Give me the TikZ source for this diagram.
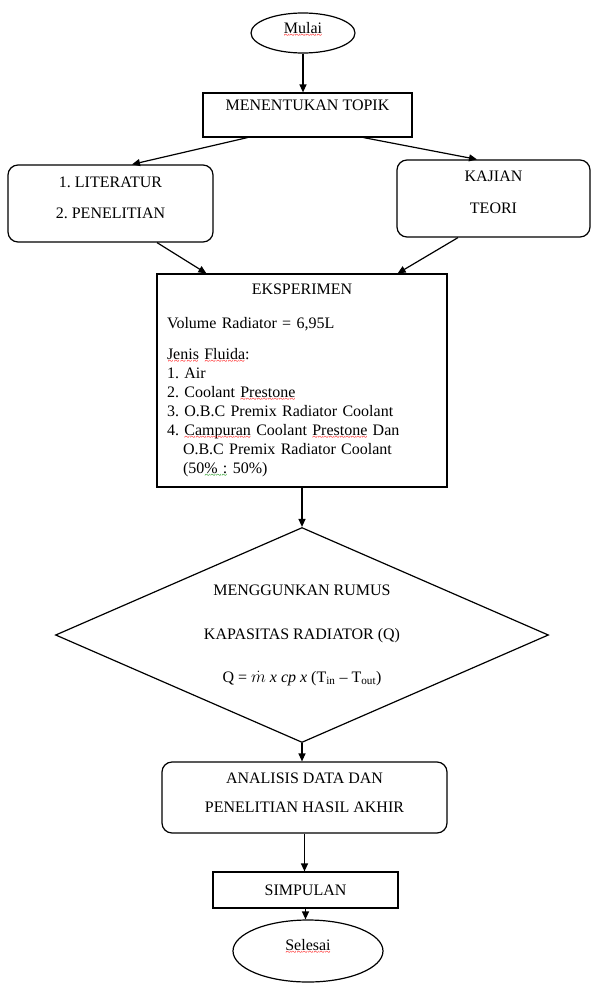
\documentclass[tikz,border=0pt]{standalone}
\usepackage{fontspec}
\setmainfont{Liberation Serif}
\usetikzlibrary{shapes.geometric,arrows.meta,positioning}
\frenchspacing

% wavy spell-check marks under words
\newlength{\SquiggleWidth}
\newcommand{\SquiggleUnder}[2]{\settowidth{\SquiggleWidth}{#2}\leavevmode\rlap{#2}\raisebox{-5pt}[0pt][0pt]{\textcolor{#1}{\hbox to \SquiggleWidth{\xleaders\hbox{\fontsize{10}{10}\selectfont\char"007E}\hfil}}}}
\newcommand{\spellmark}{\SquiggleUnder{red}}
\newcommand{\grammarmark}{\SquiggleUnder{green!55!black}}

\begin{document}
\begin{tikzpicture}[
	x=1pt, y=-1pt,
	font=\fontsize{16}{19}\selectfont,
	every node/.style={line width=1.2pt, inner sep=0pt},
	FlowBox/.style={draw, rectangle, align=center},
	RoundBox/.style={draw, rectangle, rounded corners=10pt, align=center},
	StartStop/.style={draw, ellipse, align=center},
	Decision/.style={draw, diamond, align=center},
	FlowArrow/.style={-{Triangle[length=8pt,width=7pt]}, line width=1.2pt}
	]
	\useasboundingbox (0,0) rectangle (592,985);
	% start and topic
	\node[StartStop, minimum width=104pt, minimum height=40pt] (StartNode) at (303,33) {\spellmark{Mulai}\\[-8pt]\mbox{}};
	\node[FlowBox, minimum width=209pt, minimum height=44pt] (TopicNode) at (307.5,115) {MENENTUKAN TOPIK\\[1pt]\mbox{}};
	% sources
	\node[RoundBox, minimum width=205pt, minimum height=77pt] (LiteratureNode) at (110.5,203.5) {1. LITERATUR\\[12pt]2. PENELITIAN\\[-7pt]\mbox{}};
	\node[RoundBox, minimum width=193pt, minimum height=77pt] (TheoryNode) at (493.5,198.5) {KAJIAN\\[13pt]TEORI\\[-7pt]\mbox{}};
	% experiment
	\node[FlowBox, align=left, text width=270pt, inner xsep=10pt, minimum height=213pt] (ExperimentNode) at (302,380.5) {%
		\makebox[\linewidth]{EKSPERIMEN}\\[15pt]
		Volume Radiator = 6,95L\\[12pt]
		\spellmark{Jenis} \spellmark{Fluida}:\\
		1. Air\\
		2. Coolant \spellmark{Prestone}\\
		3. O.B.C Premix Radiator Coolant\\
		4. \spellmark{Campuran} Coolant \spellmark{Prestone} Dan\\
		\hspace*{1em}O.B.C Premix Radiator Coolant\\
		\hspace*{1em}(50\grammarmark{\% :} 50\%)};
	% formula
	\node[Decision, aspect=2.29, minimum width=493pt, minimum height=215pt] (FormulaNode) at (302,635) {MENGGUNKAN RUMUS\\[25pt]KAPASITAS RADIATOR (Q)\\[24pt]Q = $\dot{m}$ \textit{x} \textit{cp} \textit{x} (T\textsubscript{in} -- T\textsubscript{out})};
	% end part
	\node[RoundBox, minimum width=285pt, minimum height=71pt] (AnalysisNode) at (304.5,797.5) {ANALISIS DATA DAN\\[10pt]PENELITIAN HASIL AKHIR\\[-9pt]\mbox{}};
	\node[FlowBox, minimum width=185pt, minimum height=36pt] (ConclusionNode) at (305.5,890) {SIMPULAN};
	\node[StartStop, minimum width=150pt, minimum height=62pt] (EndNode) at (308,951) {\spellmark{Selesai}\\[-7pt]\mbox{}};
	% arrows
	\draw[FlowArrow] (StartNode) -- (StartNode |- TopicNode.north);
	\draw[FlowArrow] ([xshift=45pt]TopicNode.south west) -- ([xshift=21.5pt]LiteratureNode.north);
	\draw[FlowArrow] ([xshift=-49pt]TopicNode.south east) -- ([xshift=-16.5pt]TheoryNode.north);
	\draw[FlowArrow] ([xshift=46.5pt]LiteratureNode.south) -- ([xshift=50pt]ExperimentNode.north west);
	\draw[FlowArrow] ([xshift=-35.5pt]TheoryNode.south) -- ([xshift=-50pt]ExperimentNode.north east);
	\draw[FlowArrow] (ExperimentNode) -- (FormulaNode.north);
	\draw[FlowArrow] (FormulaNode.south) -- (FormulaNode.south |- AnalysisNode.north);
	\draw[FlowArrow] (AnalysisNode) -- (AnalysisNode |- ConclusionNode.north);
	\draw[FlowArrow] (ConclusionNode) -- (ConclusionNode |- EndNode.north);
\end{tikzpicture}
\end{document}
